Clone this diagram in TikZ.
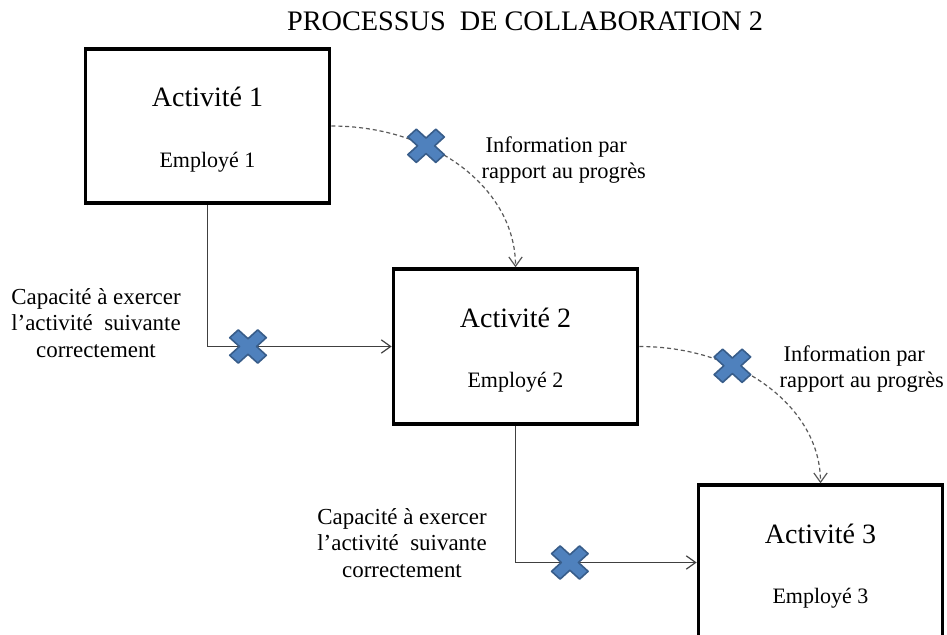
\documentclass[tikz,border=0pt]{standalone}
\usepackage{fontspec}
\setmainfont{Liberation Serif}
\usetikzlibrary{arrows.meta,calc}
\definecolor{crossblue}{RGB}{79,129,189}
\definecolor{crossedge}{RGB}{56,93,138}
\definecolor{lnkgray}{RGB}{64,64,64}
\definecolor{dashgray}{RGB}{89,89,89}
\tikzset{
  actbox/.style={draw=black, line width=2.8pt, minimum width=183pt, minimum height=116pt},
  acttxt/.style={font=\fontsize{21}{25}\selectfont},
  emptxt/.style={font=\fontsize{16.5}{20}\selectfont},
  titletxt/.style={font=\fontsize{21.2}{25}\selectfont},
  caplbl/.style={font=\fontsize{17.2}{20}\selectfont, align=center},
  infolbl/.style={font=\fontsize{16.8}{20}\selectfont, align=left, anchor=west},
  linkarr/.style={-{Straight Barb[length=7pt,width=10pt]}, lnkgray, line width=0.9pt},
  infoarr/.style={-{Straight Barb[length=7pt,width=10pt]}, dashgray, line width=0.9pt,
                  dash pattern=on 3pt off 2.2pt},
  croix/.pic={
    \draw[fill=crossblue, draw=crossedge, line width=1.2pt, line join=round, xscale=1.1, rotate=45]
      (-5.5,-18) -- (5.5,-18) -- (5.5,-5.5) -- (18,-5.5) -- (18,5.5) -- (5.5,5.5) --
      (5.5,18) -- (-5.5,18) -- (-5.5,5.5) -- (-18,5.5) -- (-18,-5.5) -- (-5.5,-5.5) -- cycle;
  },
}

\begin{document}
\begin{tikzpicture}[x=0.75pt, y=-0.75pt]
  \useasboundingbox (0,0) rectangle (947,635);
  \clip (0,0) rectangle (947,635);

  \node[titletxt] (titre) at (525,21) {PROCESSUS\ \ DE COLLABORATION 2};

  % activity boxes
  \node[actbox] (b1) at (207.5,126) {};
  \node[actbox] (b2) at (515.5,346.5) {};
  \node[actbox] (b3) at (820.5,562.5) {};
  \foreach \i in {1,2,3} {
    \node[acttxt] (a\i) at ($(b\i.center)+(0,-29)$) {Activité \i};
    \node[emptxt] (e\i) at ($(b\i.center)+(0,36)$) {Employé \i};
  }

  % solid links
  \draw[linkarr] (b1.south) |- (b2.west) coordinate[pos=0.61] (x1);
  \draw[linkarr] (b2.south) |- (b3.west) coordinate[pos=0.65] (x2);

  % dashed information links
  \draw[infoarr] (b1.east) .. controls +(102,0) and +(0,-79) .. (b2.north) coordinate[pos=0.34] (x3);
  \draw[infoarr] (b2.east) .. controls +(100,0) and +(0,-76) .. (b3.north) coordinate[pos=0.34] (x4);

  \pic at (x1) {croix};
  \pic at (x2) {croix};
  \pic at (x3) {croix};
  \pic at (x4) {croix};

  % labels
  \node[caplbl] (cap1) at (96,323) {Capacité à exercer\\l’activité\ \ suivante\\correctement};
  \node[caplbl] (cap2) at (402,543) {Capacité à exercer\\l’activité\ \ suivante\\correctement};
  \node[infolbl] (inf1) at (477,160) {\hspace*{3pt}Information par\\rapport au progrès};
  \node[infolbl] (inf2) at (775,369) {\hspace*{3pt}Information par\\rapport au progrès};
\end{tikzpicture}
\end{document}
